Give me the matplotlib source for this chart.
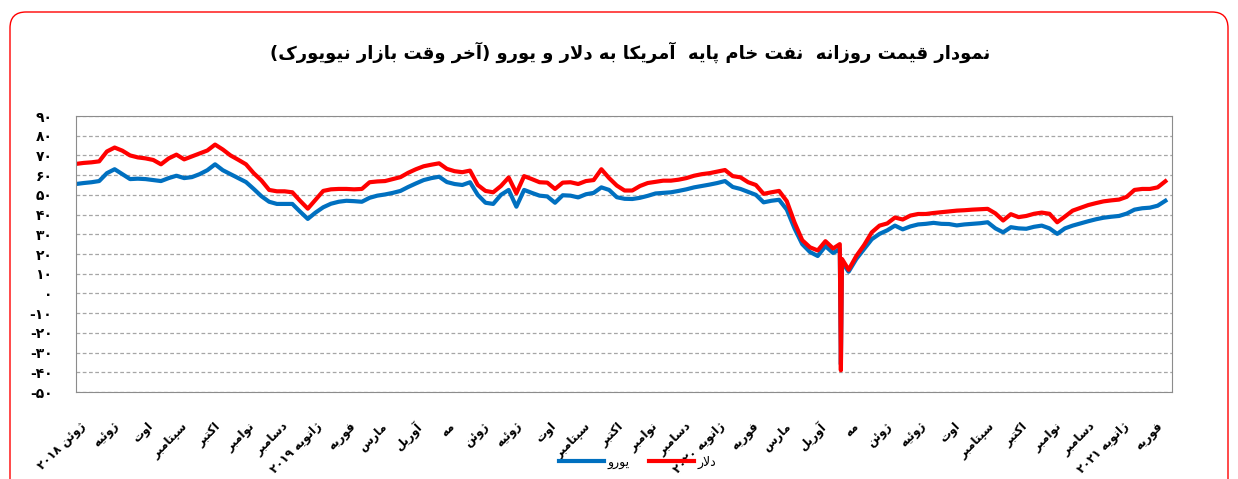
import re
import matplotlib
matplotlib.use('Agg')
import matplotlib.pyplot as plt
from matplotlib.patches import FancyBboxPatch
from matplotlib.transforms import IdentityTransform
import pandas as pd

# قیمت هفتگی نفت خام آمریکا (دلار و یورو) - خوانده شده از نمودار
usd = [65.7, 66.2, 66.5, 67.0, 72.0, 74.0, 72.4, 70.0, 69.0, 68.5,
       67.7, 65.5, 68.5, 70.4, 68.0, 69.5, 71.0, 72.5, 75.5, 73.0,
       70.0, 67.8, 65.5, 61.0, 57.3, 52.5, 51.8, 51.8, 51.3, 47.0,
       43.0, 47.5, 52.0, 52.8, 53.0, 53.0, 52.8, 53.0, 56.4, 56.8,
       57.0, 58.0, 59.0, 61.2, 63.0, 64.5, 65.3, 66.0, 63.2, 62.0,
       61.5, 62.3, 55.0, 52.0, 51.3, 54.5, 58.8, 50.8, 59.5, 58.0,
       56.4, 56.2, 53.0, 56.2, 56.4, 55.5, 57.0, 57.5, 63.0, 58.5,
       54.7, 52.2, 52.2, 54.5, 56.0, 56.6, 57.2, 57.2, 57.7, 58.5,
       59.7, 60.5, 61.0, 61.8, 62.6, 59.5, 58.9, 56.4, 55.0, 50.5,
       51.3, 52.0, 46.8, 36.0, 27.0, 23.4, 21.8, 26.5, 22.8, -39.0,
       12.0, 19.0, 24.5, 31.0, 34.4, 35.5, 38.5, 37.5, 39.5, 40.3,
       40.3, 40.8, 41.2, 41.6, 42.0, 42.2, 42.5, 42.7, 42.9, 40.6,
       37.0, 40.2, 38.7, 39.3, 40.4, 41.0, 40.4, 36.1, 39.0, 42.0,
       43.4, 44.8, 45.8, 46.7, 47.2, 47.6, 49.0, 52.5, 53.0, 53.0,
       53.8, 56.9]
eur = [55.5, 56.0, 56.4, 57.0, 61.0, 63.0, 60.5, 58.0, 58.2, 58.0,
       57.5, 57.0, 58.5, 59.7, 58.5, 59.0, 60.5, 62.5, 65.5, 62.5,
       60.5, 58.5, 56.5, 53.0, 49.3, 46.5, 45.4, 45.4, 45.4, 41.5,
       37.8, 41.0, 43.7, 45.5, 46.5, 47.0, 46.8, 46.5, 48.5, 49.6,
       50.2, 51.0, 52.0, 54.0, 55.8, 57.5, 58.5, 59.2, 56.5, 55.5,
       55.0, 56.4, 50.0, 46.0, 45.4, 50.0, 52.5, 44.0, 52.5, 51.0,
       49.6, 49.2, 46.0, 49.8, 49.6, 48.7, 50.3, 51.0, 53.8, 52.5,
       48.8, 48.0, 47.9, 48.5, 49.5, 50.7, 51.0, 51.3, 52.0, 52.8,
       53.8, 54.5, 55.2, 56.0, 57.0, 54.0, 53.0, 51.5, 50.0, 46.2,
       47.0, 47.5, 42.5, 33.0, 25.0, 21.0, 19.0, 24.0, 20.5, -36.0,
       11.0, 17.5, 22.5, 27.5, 30.2, 32.0, 34.4, 32.5, 34.0, 35.0,
       35.3, 35.8, 35.3, 35.2, 34.5, 35.0, 35.3, 35.6, 36.1, 33.0,
       31.0, 33.6, 33.0, 32.8, 33.8, 34.4, 33.0, 30.2, 33.0, 34.4,
       35.5, 36.6, 37.6, 38.4, 38.9, 39.3, 40.5, 42.5, 43.2, 43.5,
       44.5, 47.0]
# روزهای اطراف سقوط آوریل ۲۰۲۰
spike_dates = ['2020-04-20', '2020-04-22']
spike_usd = [25.0, 17.5]
spike_eur = [22.5, 16.0]

months = ['ژوئن ۲۰۱۸', 'ژوئیه', 'اوت', 'سپتامبر', 'اکتبر', 'نوامبر', 'دسامبر',
          'ژانویه ۲۰۱۹', 'فوریه', 'مارس', 'آوریل', 'مه', 'ژوئن', 'ژوئیه', 'اوت',
          'سپتامبر', 'اکتبر', 'نوامبر', 'دسامبر', 'ژانویه ۲۰۲۰', 'فوریه', 'مارس',
          'آوریل', 'مه', 'ژوئن', 'ژوئیه', 'اوت', 'سپتامبر', 'اکتبر', 'نوامبر',
          'دسامبر', 'ژانویه ۲۰۲۱', 'فوریه']
yticks = list(range(-50, 91, 10))
title = 'نمودار قیمت روزانه  نفت خام پایه  آمریکا به دلار و یورو (آخر وقت بازار نیویورک)'

# شکل حروف فارسی (جدا، پایانی، آغازی، میانی)
FORMS = {
    'آ': ('\uFE81', '\uFE82', None, None),
    'ئ': ('\uFE89', '\uFE8A', '\uFE8B', '\uFE8C'),
    'ا': ('\uFE8D', '\uFE8E', None, None),
    'ب': ('\uFE8F', '\uFE90', '\uFE91', '\uFE92'),
    'پ': ('\uFB56', '\uFB57', '\uFB58', '\uFB59'),
    'ت': ('\uFE95', '\uFE96', '\uFE97', '\uFE98'),
    'خ': ('\uFEA5', '\uFEA6', '\uFEA7', '\uFEA8'),
    'د': ('\uFEA9', '\uFEAA', None, None),
    'ر': ('\uFEAD', '\uFEAE', None, None),
    'ز': ('\uFEAF', '\uFEB0', None, None),
    'ژ': ('\uFB8A', '\uFB8B', None, None),
    'س': ('\uFEB1', '\uFEB2', '\uFEB3', '\uFEB4'),
    'ف': ('\uFED1', '\uFED2', '\uFED3', '\uFED4'),
    'ق': ('\uFED5', '\uFED6', '\uFED7', '\uFED8'),
    'ک': ('\uFB8E', '\uFB8F', '\uFB90', '\uFB91'),
    'ل': ('\uFEDD', '\uFEDE', '\uFEDF', '\uFEE0'),
    'م': ('\uFEE1', '\uFEE2', '\uFEE3', '\uFEE4'),
    'ن': ('\uFEE5', '\uFEE6', '\uFEE7', '\uFEE8'),
    'ه': ('\uFEE9', '\uFEEA', '\uFEEB', '\uFEEC'),
    'و': ('\uFEED', '\uFEEE', None, None),
    'ی': ('\uFBFC', '\uFBFD', '\uFBFE', '\uFBFF'),
}
LETTERS = '[\u0621-\u064A\u067E\u0686\u0698\u06A9\u06AF\u06CC]'
MIRROR = str.maketrans('()', ')(')


def dual(c):
    return c in FORMS and FORMS[c][2] is not None


def shape(word):
    out = []
    i = 0
    while i < len(word):
        c = word[i]
        prev = word[i - 1] if i > 0 else ''
        nxt = word[i + 1] if i + 1 < len(word) else ''
        if c == 'ل' and nxt in ('ا', 'آ'):
            lig = ('\uFEFB', '\uFEFC') if nxt == 'ا' else ('\uFEF5', '\uFEF6')
            out.append(lig[1] if dual(prev) else lig[0])
            i += 2
            continue
        if c in FORMS:
            jp = dual(prev)
            jn = dual(c) and nxt in FORMS
            idx = 3 if (jp and jn) else 1 if jp else 2 if jn else 0
            out.append(FORMS[c][idx])
        else:
            out.append(c)
        i += 1
    return ''.join(reversed(out))


def fa(text):
    # ترتیب نمایش راست به چپ
    vis = []
    for w in text.split(' '):
        runs = re.findall(LETTERS + '+|' + LETTERS[0] + '^' + LETTERS[1:] + '+', w)
        runs = [shape(r) if re.match(LETTERS, r) else r.translate(MIRROR) for r in runs]
        vis.append(''.join(runs[::-1]))
    return ' '.join(vis[::-1])


def fa_num(v):
    s = str(abs(v)).translate(str.maketrans('0123456789', '۰۱۲۳۴۵۶۷۸۹'))
    return '-' + s if v < 0 else s


s_usd = pd.concat([pd.Series(usd, index=pd.date_range('2018-05-29', periods=len(usd), freq='7D')),
                   pd.Series(spike_usd, index=pd.to_datetime(spike_dates))]).sort_index()
s_eur = pd.concat([pd.Series(eur, index=pd.date_range('2018-05-29', periods=len(eur), freq='7D')),
                   pd.Series(spike_eur, index=pd.to_datetime(spike_dates))]).sort_index()

plt.rcParams['font.family'] = ['DejaVu Sans']
fig = plt.figure(figsize=(12.38, 4.79), dpi=100)
ax = fig.add_axes([76 / 1238, 1 - 392 / 479, (1172 - 76) / 1238, (392 - 116) / 479])

ax.plot(s_eur.index, s_eur.values, color='#0070C0', lw=3.0, label=fa('یورو'))
ax.plot(s_usd.index, s_usd.values, color='#FF0000', lw=3.0, label=fa('دلار'))

ax.set_ylim(-50, 90)
ax.set_yticks(yticks)
ax.set_yticklabels([fa_num(v) for v in yticks], fontsize=10, fontweight='bold')
ax.yaxis.grid(True, linestyle=(0, (3, 2)), color='#A6A6A6', lw=0.9)
ax.set_xlim(pd.Timestamp('2018-05-29'), pd.Timestamp('2021-02-15'))
ax.set_xticks(pd.date_range('2018-06-01', periods=len(months), freq='MS'))
ax.set_xticklabels([fa(m) for m in months], rotation=45, ha='right', va='top',
                   rotation_mode='anchor', fontsize=8.5, fontweight='bold')
ax.tick_params(axis='x', length=0, pad=20)
ax.tick_params(axis='y', length=0, pad=17)
for sp in ax.spines.values():
    sp.set_color('#8C8C8C')

fig.text(0.509, 0.891, fa(title), ha='center', va='center',
         fontsize=13, fontweight='bold')
ax.legend(loc='center', bbox_to_anchor=(0.515, 0.035), bbox_transform=fig.transFigure,
          ncol=2, frameon=False, fontsize=9, handlelength=3.6, handletextpad=0.3,
          columnspacing=1.5)

# کادر قرمز دور نمودار
fig.add_artist(FancyBboxPatch((10, -20), 1218, 487, boxstyle='round,pad=0,rounding_size=16',
                              transform=IdentityTransform(), fill=False,
                              edgecolor='#FF0000', lw=1))

fig.savefig('out.png', dpi=100)
